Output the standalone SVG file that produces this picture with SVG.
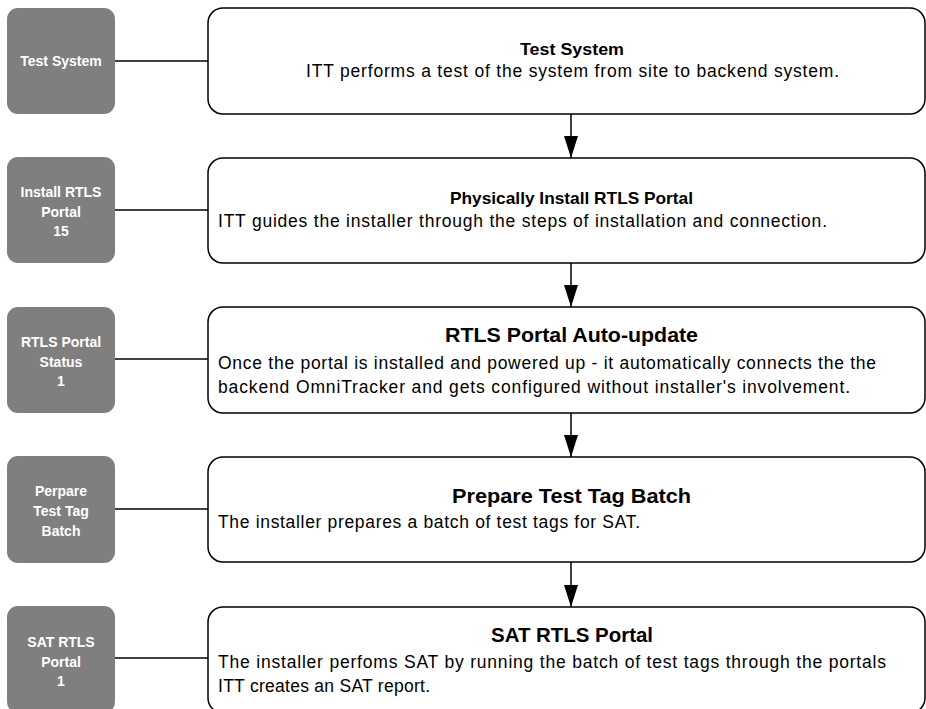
<svg xmlns="http://www.w3.org/2000/svg" width="926" height="709" viewBox="0 0 926 709">
<style>
.lbl{fill:#7f7f7f;stroke:none}
.lt{font-family:"Liberation Sans",Arial,sans-serif;font-size:14px;font-weight:bold;fill:#fff;text-anchor:middle}
.box{fill:#fff;stroke:#000;stroke-width:1.5}
.t1{font-family:"Liberation Sans",Arial,sans-serif;font-size:17px;font-weight:bold;fill:#000;text-anchor:middle}
.t2{font-family:"Liberation Sans",Arial,sans-serif;font-size:21px;font-weight:bold;fill:#000;text-anchor:middle}
.b{font-family:"Liberation Sans",Arial,sans-serif;font-size:17.5px;fill:#000}
.c{stroke:#000;stroke-width:1.5;fill:none}
</style>
<defs>
<marker id="ah" markerWidth="22" markerHeight="14" refX="22" refY="7" orient="auto" markerUnits="userSpaceOnUse" viewBox="0 0 22 14">
<path d="M0,0 L22,7 L0,14 Z" fill="#000"/>
</marker>
</defs>
<rect width="926" height="709" fill="#fff"/>
<g id="connectors">
<line class="c" x1="115" y1="61" x2="208" y2="61"/>
<line class="c" x1="115" y1="210" x2="208" y2="210"/>
<line class="c" x1="115" y1="359" x2="208" y2="359"/>
<line class="c" x1="115" y1="509" x2="208" y2="509"/>
<line class="c" x1="115" y1="658" x2="208" y2="658"/>
<line class="c" x1="571" y1="114" x2="571" y2="158" marker-end="url(#ah)"/>
<line class="c" x1="571" y1="263" x2="571" y2="307" marker-end="url(#ah)"/>
<line class="c" x1="571" y1="413" x2="571" y2="457" marker-end="url(#ah)"/>
<line class="c" x1="571" y1="562" x2="571" y2="607" marker-end="url(#ah)"/>
</g>
<g id="label1"><rect class="lbl" x="7" y="8" width="108" height="106" rx="11"/><text class="lt" x="61" y="66">Test System</text></g>
<g id="label2"><rect class="lbl" x="7" y="157" width="108" height="106" rx="11"/><text class="lt" x="61" y="197">Install RTLS</text><text class="lt" x="61" y="216.5">Portal</text><text class="lt" x="61" y="236">15</text></g>
<g id="label3"><rect class="lbl" x="7" y="307" width="108" height="106" rx="11"/><text class="lt" x="61" y="347">RTLS Portal</text><text class="lt" x="61" y="366.5">Status</text><text class="lt" x="61" y="386">1</text></g>
<g id="label4"><rect class="lbl" x="7" y="456" width="108" height="107" rx="11"/><text class="lt" x="61" y="496">Perpare</text><text class="lt" x="61" y="516">Test Tag</text><text class="lt" x="61" y="536">Batch</text></g>
<g id="label5"><rect class="lbl" x="7" y="606" width="108" height="107" rx="11"/><text class="lt" x="61" y="647">SAT RTLS</text><text class="lt" x="61" y="667">Portal</text><text class="lt" x="61" y="686">1</text></g>
<g id="step1"><rect class="box" x="208" y="8" width="717" height="106" rx="15"/>
<text class="t1" x="572" y="55" textLength="104" lengthAdjust="spacingAndGlyphs">Test System</text>
<text class="b" x="306" y="77" textLength="533">ITT performs a test of the system from site to backend system.</text></g>
<g id="step2"><rect class="box" x="208" y="158" width="717" height="105" rx="15"/>
<text class="t1" x="571.5" y="204" textLength="243" lengthAdjust="spacingAndGlyphs">Physically Install RTLS Portal</text>
<text class="b" x="218" y="227" textLength="609">ITT guides the installer through the steps of installation and connection.</text></g>
<g id="step3"><rect class="box" x="208" y="307" width="717" height="106" rx="15"/>
<text class="t2" x="571.5" y="342" textLength="253" lengthAdjust="spacingAndGlyphs">RTLS Portal Auto-update</text>
<text class="b" x="218" y="369" textLength="658">Once the portal is installed and powered up - it automatically connects the the</text>
<text class="b" x="218" y="393" textLength="632">backend OmniTracker and gets configured without installer's involvement.</text></g>
<g id="step4"><rect class="box" x="208" y="457" width="717" height="105" rx="15"/>
<text class="t2" x="571.5" y="503" textLength="239" lengthAdjust="spacingAndGlyphs">Prepare Test Tag Batch</text>
<text class="b" x="218" y="528" textLength="422">The installer prepares a batch of test tags for SAT.</text></g>
<g id="step5"><rect class="box" x="208" y="607" width="717" height="106" rx="15"/>
<text class="t2" x="572" y="642" textLength="162" lengthAdjust="spacingAndGlyphs">SAT RTLS Portal</text>
<text class="b" x="218" y="668" textLength="668">The installer perfoms SAT by running the batch of test tags through the portals</text>
<text class="b" x="218" y="692" textLength="212">ITT creates an SAT report.</text></g>
</svg>
